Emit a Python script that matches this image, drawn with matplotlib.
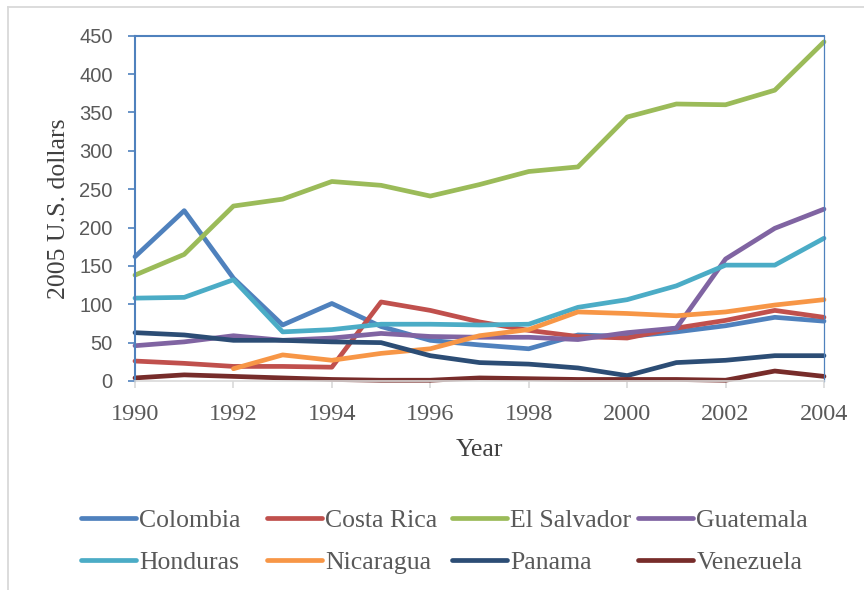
import matplotlib
matplotlib.use("Agg")
import matplotlib.pyplot as plt
from matplotlib.lines import Line2D

years = list(range(1990, 2005))

colombia = [162, 222, 134, 73, 101, 71, 53, 47, 42, 60, 58, 64, 72, 83, 78]
costa_rica = [26, 23, 19, 19, 18, 103, 92, 77, 66, 58, 56, 69, 79, 92, 83]
el_salvador = [138, 165, 228, 237, 260, 255, 241, 256, 273, 279, 344, 361, 360, 379, 442]
guatemala = [46, 51, 59, 53, 56, 62, 58, 57, 57, 54, 63, 69, 159, 199, 224]
honduras = [108, 109, 132, 64, 67, 74, 74, 73, 74, 96, 106, 124, 151, 151, 186]
nicaragua = [None, None, 16, 34, 27, 36, 42, 59, 67, 90, 88, 85, 90, 99, 106]
panama = [63, 60, 53, 53, 51, 50, 33, 24, 22, 17, 7, 24, 27, 33, 33]
venezuela = [4, 8, 6, 4, 2, 1, 1, 4, 3, 2, 2, 2, 1, 13, 6]

series = [
    ("Colombia", colombia, "#4F81BD"),
    ("Costa Rica", costa_rica, "#C0504D"),
    ("El Salvador", el_salvador, "#9BBB59"),
    ("Guatemala", guatemala, "#8064A2"),
    ("Honduras", honduras, "#4BACC6"),
    ("Nicaragua", nicaragua, "#F79646"),
    ("Panama", panama, "#2C4D75"),
    ("Venezuela", venezuela, "#772C2A"),
]

x_ticks = [1990, 1992, 1994, 1996, 1998, 2000, 2002, 2004]
y_ticks = [0, 50, 100, 150, 200, 250, 300, 350, 400, 450]

SERIF = "Liberation Serif"
SANS = "Liberation Sans"
TEXT_GRAY = "#595959"
AXIS_BLUE = "#4F81BD"

fig = plt.figure(figsize=(8.64, 5.90), dpi=100)
ax = fig.add_axes([135 / 864, 1 - 381 / 590, (824 - 135) / 864, (381 - 35.7) / 590])

lines = {}
for name, vals, color in series:
    xs = [y for y, v in zip(years, vals) if v is not None]
    ys = [v for v in vals if v is not None]
    (ln,) = ax.plot(xs, ys, color=color, lw=3.4, solid_capstyle="round",
                    solid_joinstyle="round", label=name, clip_on=False)
    lines[name] = ln

ax.set_xlim(1990, 2004)
ax.set_ylim(0, 450)
ax.set_xticks(x_ticks)
ax.set_yticks(y_ticks)

ax.tick_params(axis="y", direction="out", length=5, width=1.2, color=AXIS_BLUE,
               pad=11, labelsize=14.5, labelcolor=TEXT_GRAY)
ax.tick_params(axis="x", direction="out", length=5, width=1.2, color="#D9D9D9",
               pad=11.5, labelsize=17.5, labelcolor=TEXT_GRAY)
for lbl in ax.get_yticklabels():
    lbl.set_fontfamily(SANS)
for lbl in ax.get_xticklabels():
    lbl.set_fontfamily(SERIF)

for side in ("left", "top"):
    ax.spines[side].set_color(AXIS_BLUE)
    ax.spines[side].set_linewidth(1.5)
ax.spines["right"].set_color(AXIS_BLUE)
ax.spines["right"].set_linewidth(0.9)
ax.spines["bottom"].set_color("#D9D9D9")
ax.spines["bottom"].set_linewidth(1.2)
ax.set_zorder(1)

ax.set_ylabel("2005 U.S. dollars", fontfamily=SERIF, fontsize=18.5,
              color="#404040", labelpad=7)
ax.set_xlabel("Year", fontfamily=SERIF, fontsize=18.5, color="#404040", labelpad=10)

# legend laid out as four equal-width columns of two entries each
columns = [("Colombia", "Honduras"), ("Costa Rica", "Nicaragua"),
           ("El Salvador", "Panama"), ("Guatemala", "Venezuela")]
col_x = [81, 267, 452, 638]
for cx, names in zip(col_x, columns):
    leg = fig.legend([lines[n] for n in names], list(names),
                     loc="upper left", bbox_to_anchor=(cx / 864, 1 - 509 / 590),
                     frameon=False, handlelength=2.15, handletextpad=0.12,
                     labelspacing=0.75, borderpad=0, borderaxespad=0,
                     prop={"family": SERIF, "size": 18.5})
    for t in leg.get_texts():
        t.set_color(TEXT_GRAY)

# outer chart-area border
fig.add_artist(Line2D([8 / 864, 8 / 864], [0, 1 - 7 / 590], color="#D9D9D9", lw=1.3))
fig.add_artist(Line2D([8 / 864, 1], [1 - 7 / 590, 1 - 7 / 590], color="#D9D9D9", lw=1.3))

fig.savefig("out.png", dpi=100)
